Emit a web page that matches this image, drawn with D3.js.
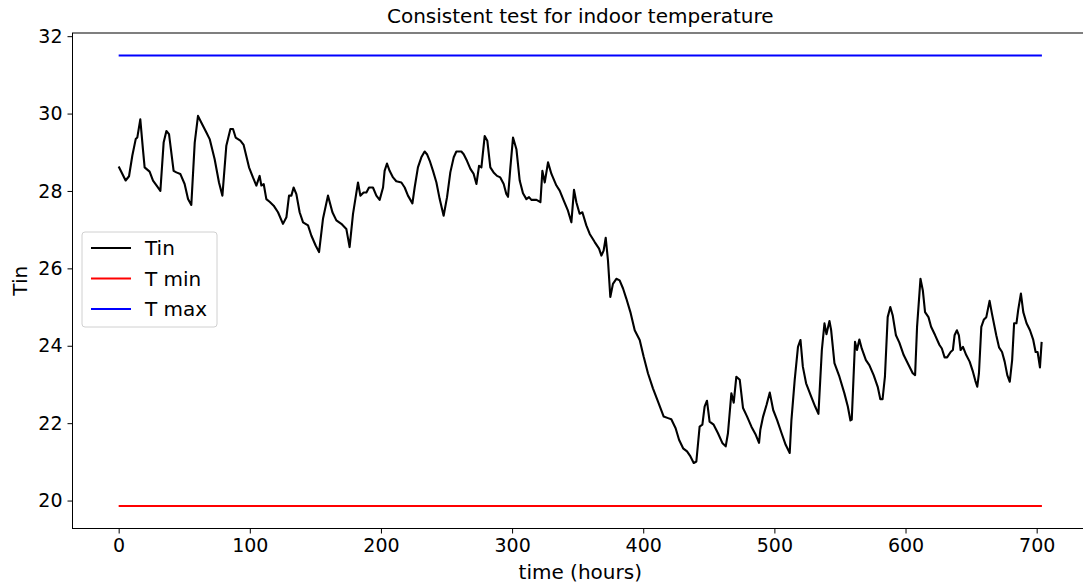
<!DOCTYPE html>
<html>
<head>
<meta charset="utf-8">
<script src="https://cdn.jsdelivr.net/npm/d3@7"></script>
<style>
  html, body { margin: 0; padding: 0; background: #fff; }
  svg { display: block; font-family: "DejaVu Sans", sans-serif; }
</style>
</head>
<body>
<svg id="chart" width="1083" height="585"></svg>
<script>
// ---- data ----
const hours = [0,5.3,7.9,10.4,13,14.2,16.5,18.5,19.8,23.6,26.2,28.7,31.8,34.3,36.4,38.4,41.9,44,47,50.3,52.9,55.4,58,60.5,63,66.9,69.4,73.2,76.5,79.1,82.1,85.2,87.2,89.2,92.8,95.3,99.4,102.4,105,107.5,108.8,110.6,112.6,115.1,118.2,121.5,125.3,127.9,129.9,131.7,133.4,135.5,138,140.6,144.4,146.9,150.2,152.8,155.8,159.6,163,166,169.8,173.6,176.1,178.7,182.5,184.3,186.8,188.9,190.9,193.9,196.5,199,201.6,202.8,204.6,206.6,209.2,211.7,215.6,218.1,220.6,224,225.7,228.2,230.8,233.3,235.1,237.2,239.7,242.3,244.8,247.8,250.4,252.9,255.5,257.5,261.3,263.1,265.6,268.2,270.7,272.8,274.8,276.6,279.1,281.1,283.4,285.9,288.5,291,293.6,295.6,296.9,298.7,300.7,303.3,305.8,308.3,310.9,312.9,314.7,318.6,321.6,323.1,324.9,327.4,330,333.8,336.3,339.4,342.6,345.2,347.2,349,351.5,353.6,356.6,359.2,363,366.3,368.1,369.8,371.4,373.1,374.9,376.9,379.5,382,384.6,387.1,390.2,393.5,397.3,400.3,403.6,407.4,411.2,415.6,418.9,421.4,424.7,427.3,430.4,433.4,436,438.5,440.5,443,445.1,446.8,448.6,450.6,453.7,457,460.3,462.9,464.6,467.2,469,471,473.6,476.1,479.2,482.5,485.8,488.3,489.3,491.4,494,496.5,499.1,502.1,505.5,508.6,511.7,513,515.5,518,519.9,521.7,524.2,528,531.1,533.6,536.2,538.2,539.7,542,543.3,545.8,549.6,553.4,556,558,559,561.5,563,564.8,566.6,569.8,572.4,575.7,578.8,580.8,582.5,584.3,586.4,588.4,590.2,592.7,595.3,598.6,601.7,605.5,607.3,608.8,611.4,613.2,614.9,617.5,619.5,622.6,625.9,627.7,629.8,631.7,634.4,636.1,637.4,639.2,640.7,642,643.8,646.3,648.9,651.4,653.2,654.7,656,657.8,659.8,661.6,664.1,665.9,669.2,671.3,673.6,675.6,677.6,679.5,681.3,682.8,684.6,685.9,688,689.8,692.3,694.9,697.4,699.2,700.7,702.5,703.8];
const tin = [28.63,28.27,28.38,28.91,29.34,29.38,29.85,29.08,28.61,28.5,28.27,28.15,28.0,29.25,29.55,29.47,28.52,28.48,28.44,28.18,27.79,27.64,29.25,29.94,29.77,29.51,29.34,28.82,28.22,27.88,29.17,29.6,29.6,29.38,29.3,29.19,28.61,28.35,28.14,28.39,28.14,28.18,27.79,27.72,27.62,27.45,27.15,27.32,27.88,27.88,28.09,27.92,27.45,27.19,27.11,26.85,26.59,26.42,27.28,27.88,27.45,27.24,27.15,27.02,26.55,27.41,28.22,27.88,27.96,27.96,28.09,28.09,27.88,27.77,28.09,28.52,28.71,28.52,28.35,28.25,28.22,28.09,27.88,27.68,28.09,28.61,28.87,29.02,28.95,28.78,28.52,28.22,27.79,27.36,27.84,28.48,28.87,29.02,29.02,28.95,28.78,28.57,28.44,28.18,28.65,28.61,29.42,29.3,28.61,28.48,28.39,28.35,28.18,27.92,27.85,28.61,29.38,29.08,28.27,27.94,27.79,27.84,27.77,27.77,27.71,28.52,28.22,28.74,28.44,28.14,28.01,27.75,27.49,27.19,28.03,27.71,27.41,27.45,27.11,26.89,26.68,26.51,26.33,26.46,26.79,26.21,25.26,25.6,25.73,25.69,25.48,25.22,24.87,24.4,24.15,23.72,23.29,22.9,22.56,22.17,22.13,22.1,21.87,21.57,21.35,21.27,21.14,20.97,21.01,21.91,21.96,22.43,22.58,22.04,21.96,21.74,21.49,21.4,21.74,22.77,22.53,23.2,23.12,22.39,22.17,21.91,21.7,21.49,21.83,22.17,22.47,22.79,22.34,22.08,21.74,21.44,21.23,22.08,23.12,23.97,24.15,23.46,23.03,22.69,22.43,22.24,23.89,24.58,24.30,24.64,24.40,23.55,23.20,22.77,22.43,22.07,22.09,24.10,23.89,24.16,23.93,23.63,23.5,23.24,22.94,22.62,22.62,23.20,24.74,25.0,24.79,24.27,24.08,23.76,23.55,23.29,23.24,24.49,25.73,25.43,24.87,24.74,24.49,24.27,24.02,23.93,23.7,23.70,23.84,23.89,24.27,24.40,24.27,23.89,23.97,23.76,23.59,23.33,23.10,22.94,23.29,24.49,24.68,24.74,25.16,24.83,24.27,23.96,23.84,23.59,23.24,23.07,23.63,24.58,24.58,24.92,25.35,24.87,24.58,24.40,24.15,23.84,23.84,23.44,24.10];
const tMinValue = 19.86;
const tMaxValue = 31.5;
const limitHours = [0, 704];
const xTicks = [0,100,200,300,400,500,600,700];
const yTicks = [20,22,24,26,28,30,32];
const titleText = "Consistent test for indoor temperature";
const xLabelText = "time (hours)";
const yLabelText = "Tin";
const legendLabels = ["Tin", "T min", "T max"];
const legendColors = ["#000000", "#ff0000", "#0000ff"];

// ---- layout ----
const svg = d3.select("#chart");
const plotLeft = 72.5, plotTop = 33, plotBottom = 528.5;
const xMinD = -35.2, xMaxD = 739.2;
const pxPerHour = 918 / 700;
const plotRight = plotLeft + (xMaxD - xMinD) * pxPerHour;

const yLo = Math.min(d3.min(tin), tMinValue), yHi = Math.max(d3.max(tin), tMaxValue);
const yPad = (yHi - yLo) * 0.05;

const x = d3.scaleLinear().domain([xMinD, xMaxD]).range([plotLeft, plotRight]);
const y = d3.scaleLinear().domain([yLo - yPad, yHi + yPad]).range([plotBottom, plotTop]);

// lines
const line = d3.line().x(d => x(d[0])).y(d => y(d[1]));
const n = Math.min(hours.length, tin.length);
const tinData = d3.range(n).map(i => [hours[i], tin[i]]);

const g = svg.append("g");
g.append("path").datum(tinData).attr("d", line)
  .attr("fill", "none").attr("stroke", "#000").attr("stroke-width", 2.1).attr("stroke-linejoin", "round");
g.append("path").datum(limitHours.map(h => [h, tMinValue])).attr("d", line)
  .attr("fill", "none").attr("stroke", "#ff0000").attr("stroke-width", 2);
g.append("path").datum(limitHours.map(h => [h, tMaxValue])).attr("d", line)
  .attr("fill", "none").attr("stroke", "#0000ff").attr("stroke-width", 2);

// axes
const xAxis = d3.axisBottom(x).tickValues(xTicks).tickSize(5).tickPadding(5).tickSizeOuter(0);
const yAxis = d3.axisLeft(y).tickValues(yTicks).tickSize(5).tickPadding(5).tickSizeOuter(0);

const gx = svg.append("g").attr("transform", `translate(0,${plotBottom})`).call(xAxis);
const gy = svg.append("g").attr("transform", `translate(${plotLeft},0)`).call(yAxis);
[gx, gy].forEach(a => {
  a.select(".domain").remove();
  a.selectAll("line").attr("stroke", "#000").attr("stroke-width", 1);
  a.selectAll("text").attr("font-family", "DejaVu Sans, sans-serif").attr("font-size", 19).attr("fill", "#000");
});

// spines (left, bottom, top; right is beyond the picture)
svg.append("rect").attr("x", plotLeft).attr("y", plotTop).attr("width", plotRight - plotLeft).attr("height", plotBottom - plotTop)
  .attr("fill", "none").attr("stroke", "#000").attr("stroke-width", 1);

// title & labels
svg.append("text").attr("x", (plotLeft + plotRight) / 2).attr("y", 23).attr("text-anchor", "middle")
  .attr("font-size", 20).attr("fill", "#000").text(titleText);
svg.append("text").attr("x", (plotLeft + plotRight) / 2).attr("y", 579).attr("text-anchor", "middle")
  .attr("font-size", 20).attr("fill", "#000").text(xLabelText);
svg.append("text").attr("transform", `translate(27,${(plotTop + plotBottom) / 2}) rotate(-90)`).attr("text-anchor", "middle")
  .attr("font-size", 20).attr("fill", "#000").text(yLabelText);

// legend
const lg = svg.append("g").attr("transform", "translate(82,232)");
lg.append("rect").attr("x", 0).attr("y", 0).attr("width", 135).attr("height", 95).attr("rx", 3)
  .attr("fill", "#fff").attr("fill-opacity", 0.8).attr("stroke", "#d0d0d0").attr("stroke-width", 1);
legendLabels.forEach((lab, i) => {
  const yy = 16 + i * 30.5;
  lg.append("line").attr("x1", 9).attr("x2", 49).attr("y1", yy).attr("y2", yy)
    .attr("stroke", legendColors[i]).attr("stroke-width", 2);
  lg.append("text").attr("x", 63).attr("y", yy + 7).attr("font-size", 20).attr("fill", "#000").text(lab);
});
</script>
</body>
</html>
